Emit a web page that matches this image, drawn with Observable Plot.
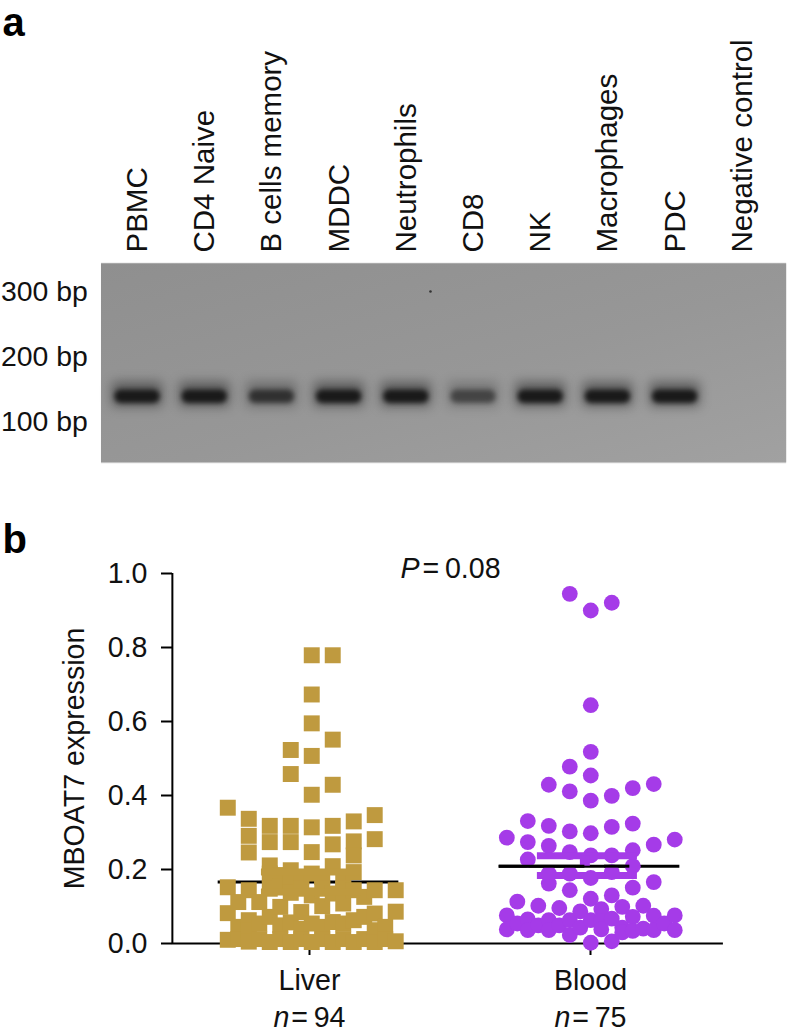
<!DOCTYPE html>
<html><head><meta charset="utf-8">
<script src="https://cdn.jsdelivr.net/npm/d3@7"></script>
<script src="https://cdn.jsdelivr.net/npm/@observablehq/plot@0.6"></script>
<style>html,body{margin:0;padding:0;background:#fff}svg{display:block}</style>
</head><body><div id="chart"></div>
<script>
// Panel a: gel
const lanes = ["PBMC","CD4 Naive","B cells memory","MDDC","Neutrophils","CD8","NK","Macrophages","PDC","Negative control"];
const bandIntensity = [1,1,0.72,1,1,0.55,1,1,1];
const bandSizeBp = 138;
const ladder = [300,200,100];
// Panel b: expression values grouped by beeswarm column
const liverColumns = [
 [-4,[.367,.152,.082,.010]],
 [-3.5,[.112,.045,.012]],
 [-3,[.337,.291,.246,.144,.063,.036,.005]],
 [-2.5,[.112,.054,.012]],
 [-2,[.318,.274,.211,.189,.148,.072,.004]],
 [-1.5,[.185,.153,.099,.049,.012]],
 [-1,[.523,.458,.318,.274,.198,.166,.137,.057,.004]],
 [-.5,[.180,.148,.085,.040,.012]],
 [0,[.779,.673,.595,.507,.402,.314,.247,.189,.130,.054,.004]],
 [.5,[.180,.148,.101,.045,.012]],
 [1,[.779,.551,.429,.318,.268,.209,.135,.058,.004]],
 [1.5,[.175,.148,.108,.054,.012]],
 [2,[.330,.276,.238,.193,.144,.063,.004]],
 [2.5,[.126,.072,.012]],
 [3,[.347,.282,.144,.081,.036,.004]],
 [3.5,[.045,.012]],
 [4,[.144,.086,.006]]
];
const bloodColumns = [
 [-4,[.286,.076,.038]],
 [-3.5,[.113,.054]],
 [-3,[.331,.274,.227,.065,.036]],
 [-2.5,[.102,.049]],
 [-2,[.429,.318,.264,.189,.162,.063,.036]],
 [-1.5,[.096,.049]],
 [-1,[.945,.478,.411,.303,.247,.189,.144,.063,.023]],
 [-.5,[.087,.043]],
 [0,[.900,.644,.518,.454,.386,.298,.238,.177,.121,.063,.002]],
 [.5,[.093,.061,.038]],
 [1,[.921,.399,.315,.238,.193,.130,.067,.006]],
 [1.5,[.099,.043,.030]],
 [2,[.420,.324,.252,.209,.151,.072,.034]],
 [2.5,[.102,.040]],
 [3,[.431,.267,.166,.075,.036]],
 [3.5,[.054]],
 [4,[.281,.076,.036]]
];
const groups = ["Liver","Blood"];
const counts = [94,75];
const means = [0.166,0.209];
const semUpper = [0.193,0.237];
const semLower = [0.139,0.184];
const yTicks = [0,0.2,0.4,0.6,0.8,1.0];

const FONT = "'Liberation Sans', Arial, sans-serif";
const INK = "#111";
const FS_TOP = 29.5, FS = 28.6;

const rowsOf = (cols, centre) => cols.flatMap(([c, vs]) => vs.map(v => ({x: centre + c * 0.0747, y: v})));
const liver = rowsOf(liverColumns, 1.008);
const blood = rowsOf(bloodColumns, 2.001);

const bands = bandIntensity.map((v, i) => ({lane: i, v}));
const gelEdge = {x1: -0.536, x2: 9.66, y1: 35, y2: 343.5};

const gelPlot = Plot.plot({
  width: 788, height: 490, margin: 0, marginTop: 0,
  x: {domain: [0, 9], range: [137, 741.8], axis: null},
  y: {domain: [0, 400], range: [486, 226], axis: null},
  opacity: {type: "identity"},
  style: {fontFamily: FONT, fontSize: FS_TOP + "px", color: INK, background: "#fff", overflow: "visible"},
  marks: [
    Plot.rect([gelEdge], {x1: "x1", x2: "x2", y1: "y1", y2: "y2", fill: "#d2d2d2"}),
    Plot.rect([{...gelEdge, y1: 36.5, y2: 342.5}], {x1: "x1", x2: "x2", y1: "y1", y2: "y2", fill: "url(#gel-shade)"}),
    Plot.rect(bands, {x1: d => d.lane - 0.37, x2: d => d.lane + 0.37, y1: bandSizeBp - 15, y2: bandSizeBp + 22,
      fill: "#2a2a2a", opacity: d => 0.55 * d.v, ariaLabel: () => "band halo"}),
    Plot.rect(bands, {x1: d => d.lane - 0.335, x2: d => d.lane + 0.335, y1: bandSizeBp - 10, y2: bandSizeBp + 10,
      fill: "#191919", opacity: d => d.v, rx: 6, ariaLabel: () => "band core"}),
    Plot.dot([{x: 4.36, y: 300}], {x: "x", y: "y", r: 1.3, fill: "#333"}),
    Plot.text(lanes, {x: (d, i) => i, y: 360, text: d => d, rotate: -90, textAnchor: "start", lineAnchor: "middle", fontSize: FS_TOP, fill: INK}),
    Plot.text(ladder, {x: -0.74, y: d => d, text: d => d + " bp", textAnchor: "end", lineAnchor: "middle", fontSize: 28.4, fill: INK}),
    Plot.text(["a"], {frameAnchor: "top-left", dx: 2, dy: 35, lineAnchor: "bottom", text: d => d, fontSize: 40, fontWeight: 700, fill: "#000"})
  ]
});

const axisLeft = 0.512, axisRight = 2.473;
const groupX = [1, 2];
const swarmPlot = Plot.plot({
  width: 788, height: 543, marginTop: 0, marginRight: 0, marginBottom: 90, marginLeft: 172,
  x: {domain: [1, 2], range: [309, 590], axis: null},
  y: {domain: [0, 1], range: [453, 83], axis: null},
  style: {fontFamily: FONT, fontSize: FS + "px", color: INK, background: "#fff", overflow: "visible"},
  marks: [
    Plot.ruleX([axisLeft], {y1: 0, y2: 1, stroke: "#000", strokeWidth: 2}),
    Plot.ruleY([0], {x1: axisLeft, x2: axisRight, stroke: "#000", strokeWidth: 2}),
    Plot.axisY({ticks: yTicks, tickSize: 11, tickPadding: 14, tickFormat: d3.format(".1f"), label: null, stroke: "#000", strokeWidth: 2, fontSize: FS, fill: INK}),
    Plot.axisX({ticks: groupX, tickSize: 12, tickPadding: 14, tickFormat: (d, i) => groups[i], label: null, stroke: "#000", strokeWidth: 2, fontSize: FS, fill: INK}),
    Plot.ruleY(means, {x1: (d, i) => groupX[i] - 0.325, x2: (d, i) => groupX[i] + 0.318, y: d => d, stroke: "#000", strokeWidth: 3}),
    Plot.dot(liver, {x: "x", y: "y", symbol: "square", r: 9, fill: "#bf9a3f"}),
    Plot.dot(blood, {x: "x", y: "y", symbol: "circle", r: 7.9, fill: "#a53be8"}),
    Plot.ruleY([semUpper[0]], {x1: 0.829, x2: 1.185, y: d => d, stroke: "#bf9a3f", strokeWidth: 7}),
    Plot.ruleY([semLower[0]], {x1: 0.829, x2: 1.185, y: d => d, stroke: "#bf9a3f", strokeWidth: 7}),
    Plot.ruleY([semUpper[1], semLower[1]], {x1: 1.811, x2: 2.167, y: d => d, stroke: "#a53be8", strokeWidth: 7}),
    Plot.ruleX([1.98], {y1: means[1], y2: semUpper[1], stroke: "#a53be8", strokeWidth: 10}),
    Plot.ruleY([means[1]], {x1: groupX[1] - 0.325, x2: groupX[1] - 0.02, y: d => d, stroke: "#000", strokeWidth: 3}),
    Plot.ruleY([means[1]], {x1: groupX[1] + 0.05, x2: groupX[1] + 0.14, y: d => d, stroke: "#000", strokeWidth: 3}),
    Plot.text(["P"], {x: 1.324, y: 1.012, text: d => d, textAnchor: "start", fontStyle: "italic", fontSize: FS, fill: INK}),
    Plot.text(["=\u20090.08"], {x: 1.68, y: 1.012, text: d => d, textAnchor: "end", fontSize: FS, fill: INK}),
    Plot.text(counts, {x: (d, i) => groupX[i] - 0.128, y: -0.2, text: d => "n", textAnchor: "start", fontStyle: "italic", fontSize: FS, fill: INK}),
    Plot.text(counts, {x: (d, i) => groupX[i] + 0.128, y: -0.2, text: d => "=\u2009" + d, textAnchor: "end", fontSize: FS, fill: INK}),
    Plot.text(["MBOAT7 expression"], {x: 0.199, y: 0.5, text: d => d, rotate: -90, lineAnchor: "bottom", fontSize: FS, fill: INK}),
    Plot.text(["b"], {frameAnchor: "top-left", dx: -170, dy: 62, lineAnchor: "bottom", text: d => d, fontSize: 40, fontWeight: 700, fill: "#000"})
  ]
});

const root = document.getElementById("chart");
root.append(gelPlot, swarmPlot);
// gel tone: slightly darker toward the upper left, as in the photograph
const NS = "http://www.w3.org/2000/svg";
const defs = document.createElementNS(NS, "defs");
const grad = document.createElementNS(NS, "linearGradient");
grad.setAttribute("id", "gel-shade");
grad.setAttribute("x1", "0"); grad.setAttribute("y1", "0"); grad.setAttribute("x2", "1"); grad.setAttribute("y2", "1");
[["0", "#8f8f8f"], ["0.55", "#979797"], ["1", "#a1a1a1"]].forEach(([o, c]) => {
  const s = document.createElementNS(NS, "stop");
  s.setAttribute("offset", o); s.setAttribute("stop-color", c); grad.append(s);
});
defs.append(grad); gelPlot.prepend(defs);
const blur = (label, px) => gelPlot.querySelectorAll(`[aria-label="${label}"]`).forEach(g => g.style.filter = `blur(${px}px)`);
blur("band halo", 6);
blur("band core", 2.6);
</script></body></html>
